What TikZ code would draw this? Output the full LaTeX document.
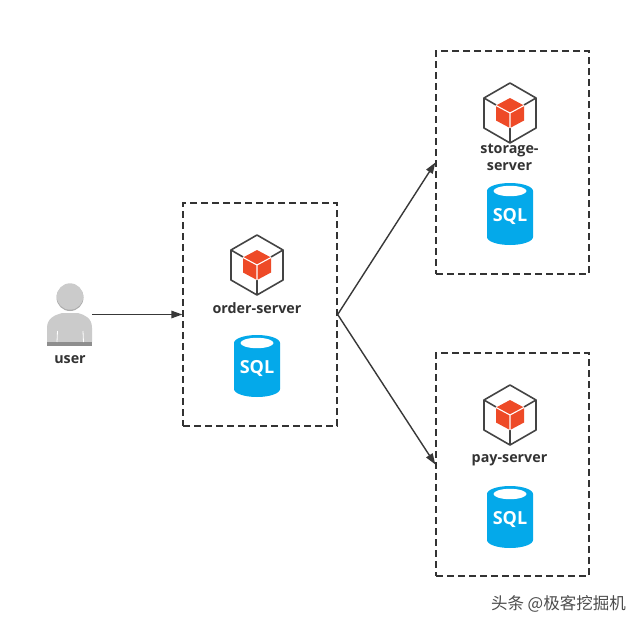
\documentclass[tikz,border=0pt]{standalone}
\usepackage{fontspec}
\setmainfont{Open Sans}
\newfontfamily\cjkmark{Noto Sans CJK SC}
\usetikzlibrary{arrows.meta}
\definecolor{cubered}{HTML}{EE4A27}
\definecolor{cubeline}{HTML}{444444}
\definecolor{sqlblue}{HTML}{04A9EA}
\definecolor{labelink}{HTML}{333333}
\definecolor{bodygrey}{HTML}{CBCBCB}
\definecolor{stripgrey}{HTML}{8E8E8E}
\tikzset{
  x=1pt, y=-1pt,
  serverbox/.style={draw=black!80, line width=1.3pt, dash pattern=on 7pt off 4pt, minimum width=153pt, minimum height=223pt, inner sep=0pt},
  flow/.style={draw=black!78, line width=1.4pt, -{Triangle[length=11pt,width=7.5pt]}},
  caption/.style={font=\bfseries\fontsize{14.3}{16.5}\selectfont, text=labelink, align=center, inner sep=0pt},
  pics/cube/.style={code={
    % outer hexagon with the three inner edges
    \draw[cubeline, line width=1.6pt, line join=round] (0,-30) -- (26,-15) -- (26,15) -- (0,30) -- (-26,15) -- (-26,-15) -- cycle;
    \draw[cubeline, line width=1.6pt] (-26,-15) -- (-14,-8) (26,-15) -- (14,-8) (0,15) -- (0,30);
    % red inner block, split into three faces by white seams
    \fill[cubered] (0,-15) -- (14,-7.5) -- (14,7.5) -- (0,15) -- (-14,7.5) -- (-14,-7.5) -- cycle;
    \draw[white, line width=1.1pt] (-14,-7.5) -- (0,0) -- (14,-7.5) (0,0) -- (0,15);
  }},
  pics/sqldb/.style={code={
    % cylinder body with the pale top opening
    \fill[sqlblue] (-23,-23) -- (-23,23) arc[start angle=180, end angle=360, x radius=23, y radius=-8] -- (23,-23) arc[start angle=0, end angle=180, x radius=23, y radius=-8] -- cycle;
    \fill[white] (0,-23) ellipse[x radius=16.5, y radius=5.2];
    \node[font=\bfseries\fontsize{18}{20}\selectfont, text=white, inner sep=0pt] at (0,2.5) {SQL};
  }}
}
\begin{document}
\begin{tikzpicture}
  \useasboundingbox[fill=white] (0,0) rectangle (640,627);

  % service boundaries
  \node[serverbox, minimum width=154pt] (order) at (260,314.5) {};
  \node[serverbox] (storage) at (512.5,162.5) {};
  \node[serverbox] (pay) at (512.5,464.5) {};

  % the user figure
  \fill[bodygrey] (47,342) -- (47,328) .. controls (47,318) and (55,315) .. (62,313) -- (78,313) .. controls (85,315) and (92,318) .. (92,328) -- (92,342) -- cycle;
  \fill[stripgrey] (47,342) rectangle (92,346);
  \draw[white, line width=0.8pt] (57.5,331) -- (57,342) (83,331) -- (83.5,342);
  \fill[bodygrey!85!black] (70,297.5) circle[radius=13.5];
  \fill[bodygrey] (70,296.5) circle[radius=13.2];
  \node[caption] (userlabel) at (70,359.5) {user};
  \coordinate (userport) at (92,314.5);

  % order service
  \pic at (257,265) {cube};
  \node[caption] (orderlabel) at (257,308.5) {order-server};
  \pic at (257,366) {sqldb};

  % storage service
  \pic at (510,113) {cube};
  \node[caption] (storagelabel) at (509.5,157.5) {storage-\\server};
  \pic at (510,214) {sqldb};

  % pay service
  \pic at (510,415) {cube};
  \node[caption] (paylabel) at (509.5,460.5) {pay-server};
  \pic at (510,517) {sqldb};

  % request flow
  \draw[flow] (userport) -- (order.west);
  \draw[flow] (order.east) -- (storage.west);
  \draw[flow] (order.east) -- (pay.west);

  % publisher mark
  \node[font=\cjkmark\fontsize{16.5}{19}\selectfont, text=black!70, inner sep=0pt, anchor=east] (mark) at (626,604) {头条 @极客挖掘机};
\end{tikzpicture}
\end{document}
